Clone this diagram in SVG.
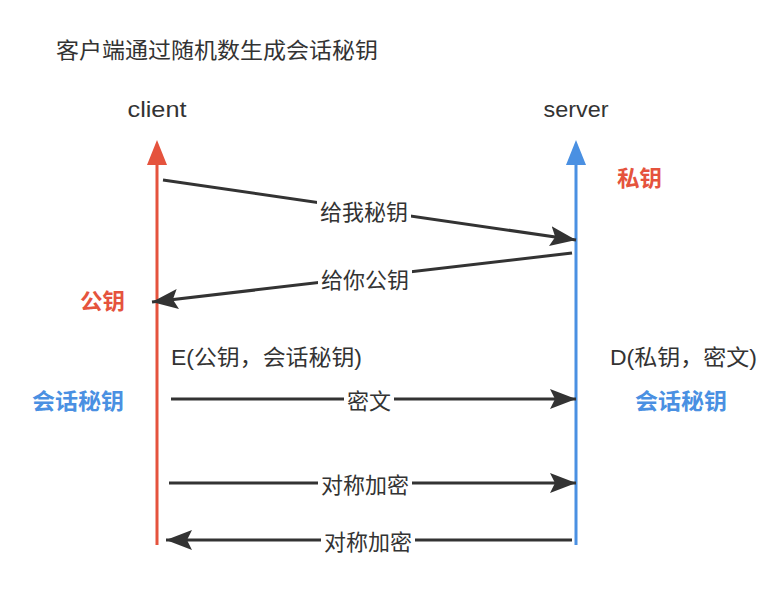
<svg xmlns="http://www.w3.org/2000/svg" width="784" height="596" viewBox="0 0 784 596">
<style>
text{font-family:"Liberation Sans","Noto Sans CJK SC",sans-serif;font-size:22px;fill:#333}
.lbl{text-anchor:middle}
.red{fill:#E5533D;font-weight:bold}
.blue{fill:#4A90E2;font-weight:bold}
.msg{stroke:#333;stroke-width:3;fill:none}
.bg{fill:#fff}
</style>
<defs>
<marker id="ah" markerUnits="userSpaceOnUse" markerWidth="28" markerHeight="20" refX="26" refY="10" orient="auto">
<path d="M0,0 L26,10 L0,20 L5,10 Z" fill="#333"/>
</marker>
</defs>
<text x="56" y="58" textLength="322" lengthAdjust="spacingAndGlyphs">客户端通过随机数生成会话秘钥</text>
<g id="client">
<text class="lbl" x="157" y="117" textLength="59" lengthAdjust="spacingAndGlyphs">client</text>
<line x1="157" y1="545" x2="157" y2="160" stroke="#E5533D" stroke-width="3"/>
<path d="M147,165 L157,140 L167,165 Z" fill="#E5533D"/>
</g>
<g id="server">
<text class="lbl" x="576" y="117" textLength="65" lengthAdjust="spacingAndGlyphs">server</text>
<line x1="576" y1="545" x2="576" y2="160" stroke="#4A90E2" stroke-width="3"/>
<path d="M566,165 L576,140 L586,165 Z" fill="#4A90E2"/>
</g>
<g id="notes">
<text class="red" x="617" y="186" textLength="45" lengthAdjust="spacingAndGlyphs">私钥</text>
<text class="red" x="80" y="309" textLength="45" lengthAdjust="spacingAndGlyphs">公钥</text>
<text class="blue" x="32" y="409" textLength="92" lengthAdjust="spacingAndGlyphs">会话秘钥</text>
<text class="blue" x="635" y="409" textLength="92" lengthAdjust="spacingAndGlyphs">会话秘钥</text>
<text x="171" y="365" textLength="191" lengthAdjust="spacingAndGlyphs">E(公钥，会话秘钥)</text>
<text x="610" y="365" textLength="147" lengthAdjust="spacingAndGlyphs">D(私钥，密文)</text>
</g>
<g id="connectors">
<line class="msg" x1="163" y1="180" x2="576" y2="240" marker-end="url(#ah)"/>
<rect class="bg" x="317" y="200" width="94" height="24"/>
<text class="lbl" x="364" y="220">给我秘钥</text>
<line class="msg" x1="572" y1="253" x2="152" y2="302" marker-end="url(#ah)"/>
<rect class="bg" x="318" y="268" width="94" height="24"/>
<text class="lbl" x="365" y="288">给你公钥</text>
<line class="msg" x1="171" y1="399" x2="576" y2="399" marker-end="url(#ah)"/>
<rect class="bg" x="344" y="388" width="50" height="24"/>
<text class="lbl" x="369" y="409">密文</text>
<line class="msg" x1="169" y1="483" x2="576" y2="483" marker-end="url(#ah)"/>
<rect class="bg" x="318" y="472" width="94" height="24"/>
<text class="lbl" x="365" y="493">对称加密</text>
<line class="msg" x1="572" y1="540" x2="166" y2="540" marker-end="url(#ah)"/>
<rect class="bg" x="321" y="529" width="94" height="24"/>
<text class="lbl" x="368" y="550">对称加密</text>
</g>
</svg>
